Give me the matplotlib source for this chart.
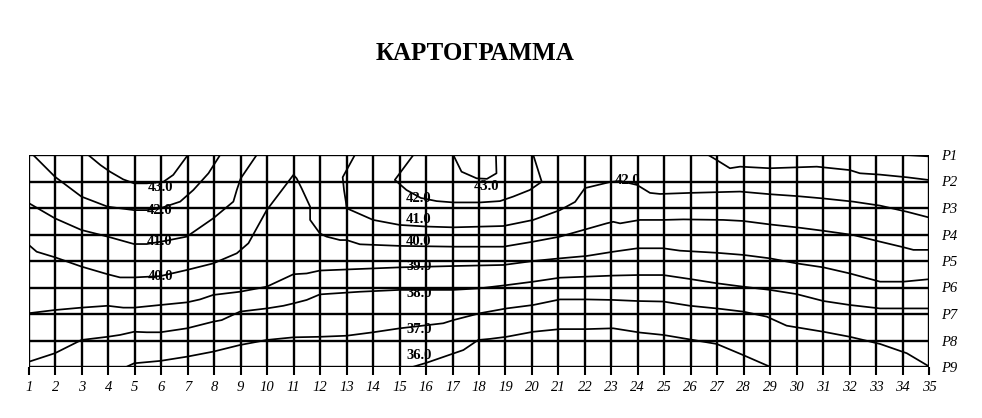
import matplotlib

matplotlib.use("Agg")
import matplotlib.pyplot as plt
import numpy as np

plt.rcParams.update({
    "font.family": ["Liberation Serif", "DejaVu Serif"],
})

TITLE = "КАРТОГРАММА"
columns = list(range(1, 36))
row_names = ["P1", "P2", "P3", "P4", "P5", "P6", "P7", "P8", "P9"]

# isolines as (column, row) points; row 1 = P1 at top
iso43_left = [(3.24, 1.0), (3.7, 1.38), (4.06, 1.63), (4.56, 1.92), (4.97, 2.07),
              (5.45, 2.07), (6.08, 2.01), (6.45, 1.75), (7.0, 1.0)]
iso42_left = [(1.16, 1.0), (1.98, 1.82), (2.98, 2.57), (3.97, 2.95), (4.97, 3.08),
              (5.45, 3.08), (5.96, 3.01), (6.71, 2.76), (7.21, 2.32), (7.78, 1.69),
              (8.22, 1.0)]
iso41_left = [(1.0, 2.82), (1.98, 3.39), (2.98, 3.83), (3.97, 4.08), (4.97, 4.36),
              (5.45, 4.36), (6.1, 4.25), (6.96, 4.08), (7.96, 3.39), (8.72, 2.76),
              (8.85, 2.32), (9.0, 1.88), (9.6, 1.0)]
iso40 = [(1.0, 4.40), (1.29, 4.65), (1.98, 4.86), (2.98, 5.21), (3.97, 5.50),
         (4.44, 5.62), (4.97, 5.62), (5.96, 5.57), (6.96, 5.34), (7.96, 5.09),
         (8.85, 4.71), (9.29, 4.33), (9.98, 3.08), (10.99, 1.75), (11.11, 1.88),
         (11.30, 2.26), (11.62, 2.95), (11.62, 3.45), (11.99, 3.96), (12.24, 4.08),
         (12.75, 4.21), (13.0, 4.21), (13.5, 4.37), (15.01, 4.43), (17.03, 4.46),
         (18.92, 4.46), (20.05, 4.27), (21.06, 4.08), (21.94, 3.83), (22.82, 3.58),
         (23.07, 3.52), (23.33, 3.58), (24.08, 3.45), (24.96, 3.45), (25.72, 3.43),
         (27.23, 3.45), (27.98, 3.49), (28.99, 3.62), (30.0, 3.73), (31.01, 3.86),
         (32.14, 4.02), (33.15, 4.27), (34.03, 4.48), (34.41, 4.58), (34.97, 4.58)]
iso41_mid = [(13.31, 1.0), (12.85, 1.84), (12.90, 2.32), (12.97, 2.76), (13.0, 3.01),
             (14.0, 3.45), (15.01, 3.64), (16.02, 3.70), (17.03, 3.73), (18.92, 3.68),
             (20.05, 3.45), (21.06, 3.08), (21.63, 2.77), (22.0, 2.25), (22.95, 2.02),
             (23.33, 1.98), (23.97, 2.13), (24.46, 2.43), (24.84, 2.47), (25.97, 2.43),
             (27.86, 2.38), (28.99, 2.48), (30.0, 2.55), (31.01, 2.64), (32.14, 2.76),
             (33.15, 2.91), (34.16, 3.14), (34.97, 3.35)]
iso42_mid = [(15.52, 1.0), (14.82, 1.94), (15.26, 2.32), (15.8, 2.62), (16.40, 2.74),
             (17.03, 2.79), (18.04, 2.79), (18.79, 2.74), (19.29, 2.57), (19.92, 2.32),
             (20.37, 2.01), (20.05, 1.0)]
iso43_mid = [(17.03, 1.0), (17.34, 1.63), (17.91, 1.88), (18.3, 1.9), (18.66, 1.69),
             (18.64, 1.0)]
iso42_right = [(26.66, 1.0), (26.98, 1.19), (27.48, 1.50), (27.86, 1.44), (28.99, 1.50),
               (30.76, 1.44), (32.01, 1.57), (32.39, 1.69), (33.15, 1.74), (34.16, 1.84),
               (34.97, 1.94)]
iso_corner = [(34.15, 1.0), (34.97, 1.05)]
iso39 = [(1.0, 6.97), (1.98, 6.85), (2.98, 6.76), (3.97, 6.69), (4.56, 6.76),
         (4.97, 6.76), (5.96, 6.66), (6.97, 6.56), (7.46, 6.45), (7.96, 6.28),
         (8.97, 6.16), (9.98, 5.97), (10.99, 5.50), (11.49, 5.47), (11.99, 5.36),
         (15.01, 5.24), (17.03, 5.19), (18.92, 5.15), (20.05, 5.0), (21.06, 4.90),
         (22.07, 4.81), (23.07, 4.65), (23.99, 4.52), (24.96, 4.52), (25.59, 4.61),
         (26.98, 4.69), (27.98, 4.77), (28.99, 4.90), (30.0, 5.09), (31.01, 5.24),
         (32.01, 5.47), (33.15, 5.78), (34.03, 5.78), (34.97, 5.69)]
iso38 = [(1.0, 8.80), (1.98, 8.48), (2.98, 7.98), (3.97, 7.86), (4.44, 7.79),
         (4.97, 7.67), (5.45, 7.69), (5.96, 7.69), (6.97, 7.54), (7.96, 7.29),
         (8.28, 7.23), (8.97, 6.91), (9.98, 6.79), (10.61, 6.69), (10.99, 6.60),
         (11.49, 6.47), (11.99, 6.26), (13.5, 6.16), (15.01, 6.09), (17.03, 6.09),
         (18.04, 6.03), (19.04, 5.91), (20.05, 5.78), (21.06, 5.63), (22.07, 5.59),
         (23.07, 5.55), (23.99, 5.53), (24.96, 5.53), (25.97, 5.68), (26.98, 5.84),
         (27.98, 5.97), (28.99, 6.09), (30.0, 6.25), (31.01, 6.51), (32.01, 6.66),
         (33.15, 6.79), (34.16, 6.79), (34.97, 6.79)]
iso37 = [(4.69, 8.99), (4.97, 8.86), (5.96, 8.77), (6.97, 8.61), (7.96, 8.42),
         (8.97, 8.17), (9.98, 7.98), (10.99, 7.88), (11.99, 7.86), (13.0, 7.82),
         (14.0, 7.69), (15.01, 7.54), (16.65, 7.35), (17.03, 7.23), (18.04, 6.97),
         (19.04, 6.79), (20.05, 6.66), (21.06, 6.45), (22.07, 6.45), (23.07, 6.47),
         (23.99, 6.51), (24.96, 6.53), (25.97, 6.69), (26.98, 6.79), (27.98, 6.91),
         (28.87, 7.10), (29.62, 7.44), (31.01, 7.67), (32.01, 7.86), (33.15, 8.13),
         (34.16, 8.48), (34.97, 8.96)]
iso36 = [(15.52, 8.99), (16.02, 8.84), (17.41, 8.36), (17.97, 7.98), (18.41, 7.94),
         (19.04, 7.86), (20.05, 7.67), (21.06, 7.57), (22.07, 7.57), (23.07, 7.54),
         (24.08, 7.70), (24.96, 7.79), (25.97, 7.96), (26.98, 8.13), (27.98, 8.55),
         (28.99, 8.99)]

isolines = [iso43_left, iso42_left, iso41_left, iso40, iso41_mid, iso42_mid, iso43_mid,
            iso42_right, iso_corner, iso39, iso38, iso37, iso36]

label_text = ["43.0", "42.0", "41.0", "40.0",
              "42.0", "41.0", "40.0", "39.0", "38.0", "37.0", "36.0",
              "43.0", "42.0"]
label_col = [5.95, 5.95, 5.95, 5.95,
             15.73, 15.73, 15.73, 15.73, 15.73, 15.73, 15.73,
             18.29, 23.63]
label_row = [2.21, 3.11, 4.25, 5.57,
             2.64, 3.45, 4.27, 5.21, 6.22, 7.58, 8.55,
             2.19, 1.98]

fig = plt.figure(figsize=(9.82, 4.18), dpi=100)
ax = fig.add_axes([29 / 982, 1 - 367 / 418, 900 / 982, 212 / 418])

# grid of cells
for c in columns:
    ax.plot([c, c], [1, 9], color="black", lw=1.7, zorder=1)
for r in range(1, len(row_names) + 1):
    ax.plot([1, 35], [r, r], color="black", lw=1.7, zorder=1)

for line in isolines:
    pts = np.array(line)
    ax.plot(pts[:, 0], pts[:, 1], color="black", lw=1.25, zorder=2)

for txt, c, r in zip(label_text, label_col, label_row):
    ax.text(c, r, txt, ha="center", va="center", fontsize=10.5,
            fontweight="bold", color="black", zorder=3)

ax.set_xlim(1, 35)
ax.set_ylim(9, 1)
for s in ax.spines.values():
    s.set_visible(False)

ax.set_xticks(columns)
ax.set_xticklabels([str(c) for c in columns], fontstyle="italic", fontsize=10.5)
ax.tick_params(axis="x", direction="out", length=5.5, width=1.5, pad=4.5)

ax.yaxis.tick_right()
ax.set_yticks(range(1, len(row_names) + 1))
ax.set_yticklabels(row_names, fontstyle="italic", fontsize=10.5)
ax.tick_params(axis="y", length=0, pad=9)

fig.text(475.5 / 982, 1 - 53 / 418, TITLE, ha="center", va="center",
         fontsize=18, fontweight="bold")

fig.savefig("out.png", dpi=100)
plt.close(fig)
